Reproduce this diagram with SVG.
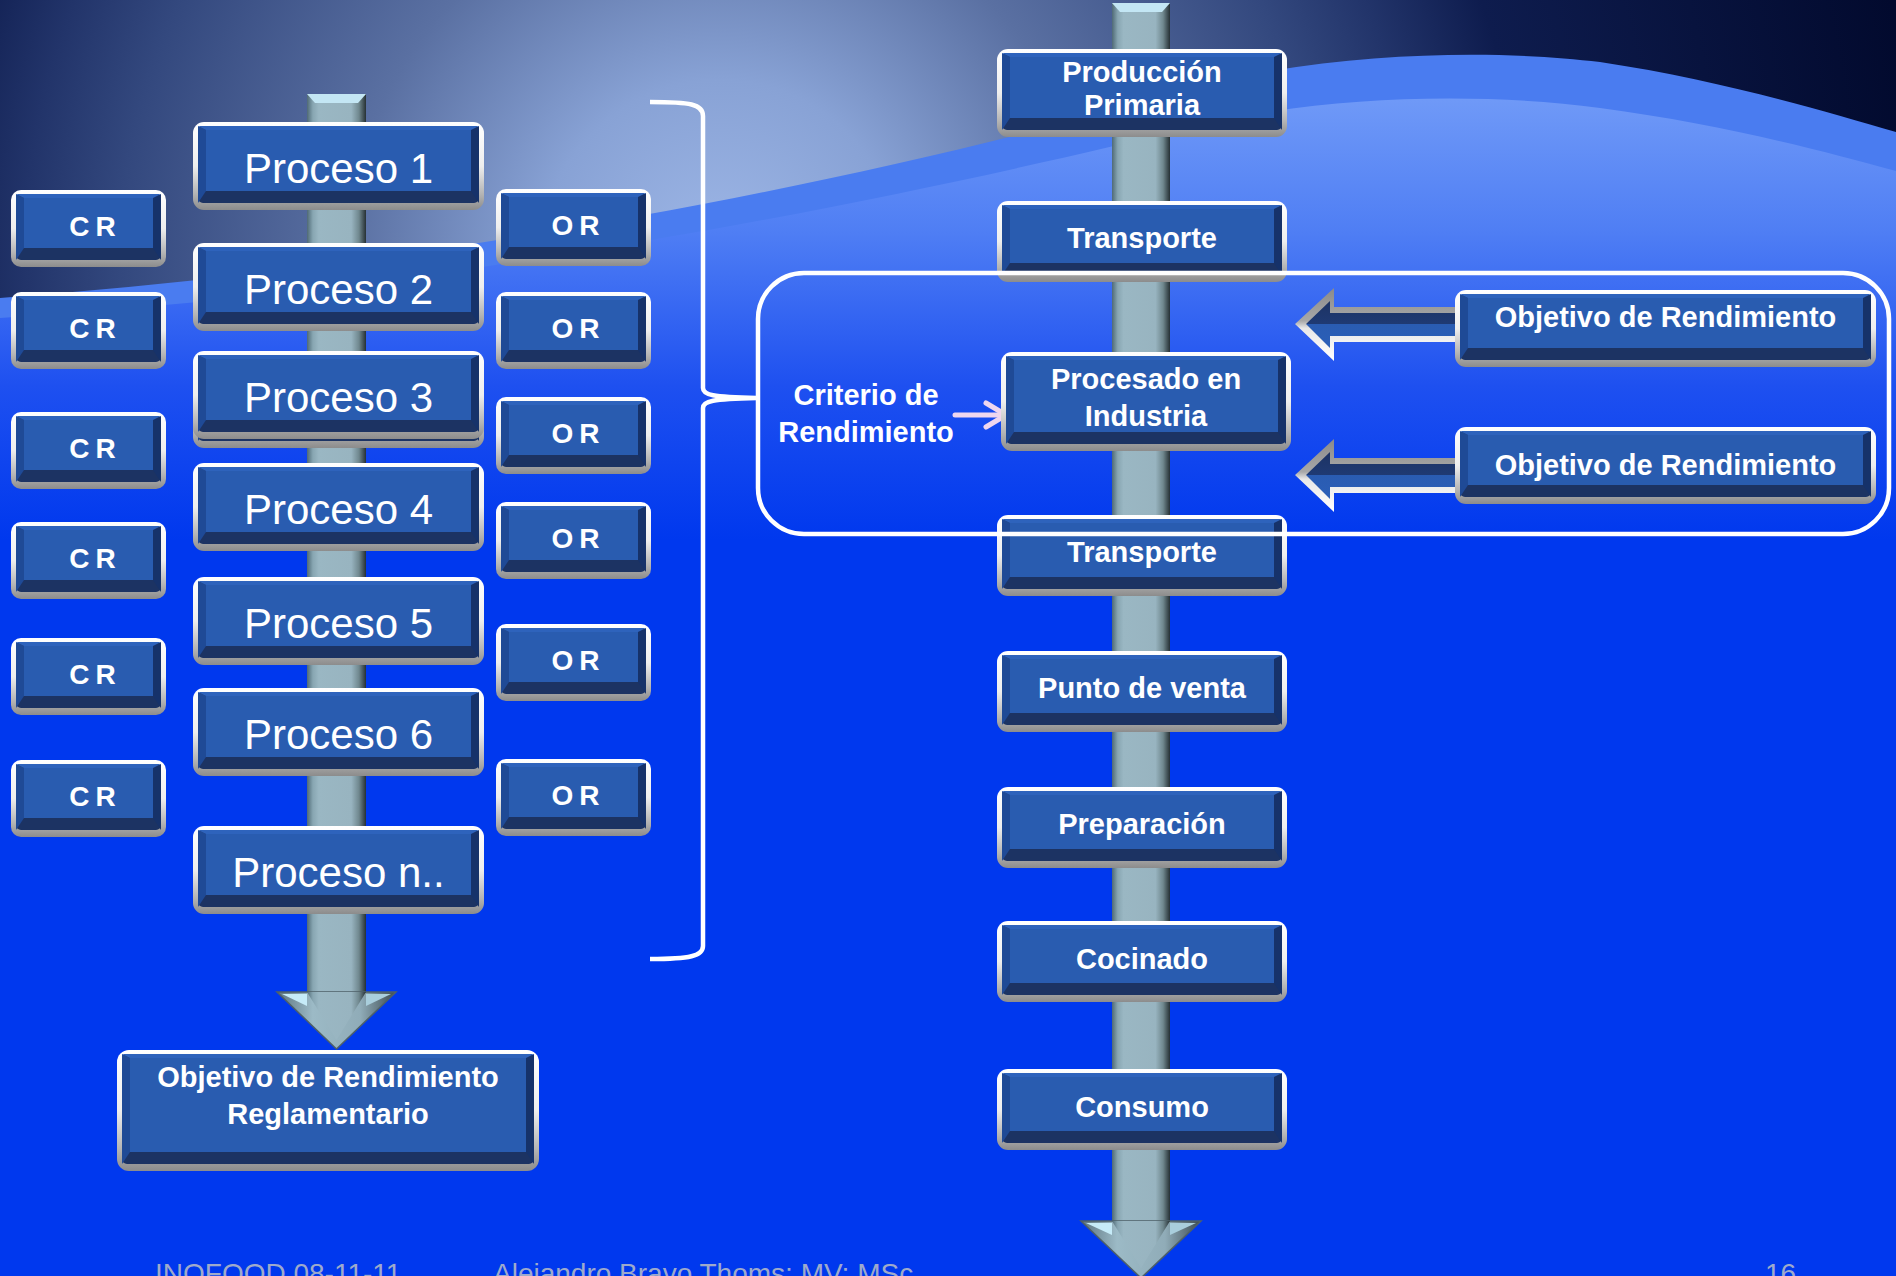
<svg xmlns="http://www.w3.org/2000/svg" xmlns:xlink="http://www.w3.org/1999/xlink" width="1896" height="1276" viewBox="0 0 1896 1276">
  <style>
    .rim { fill: url(#rimG); }
    .bb { fill: #1c3363; }
    .bl { fill: #1f4a96; }
    .br { fill: #16326a; }
    .bt { fill: #2e63bc; }
    .fc { fill: #295cb0; }
    .tp { font-family: 'Liberation Sans', Arial, sans-serif; font-size: 42px; fill: #ffffff; text-anchor: middle; }
    .tb { font-family: 'Liberation Sans', Arial, sans-serif; font-weight: bold; font-size: 29px; fill: #ffffff; text-anchor: middle; }
    .tc { font-family: 'Liberation Sans', Arial, sans-serif; font-weight: bold; font-size: 28px; fill: #ffffff; text-anchor: middle; letter-spacing: 6px; }
    .ft { font-family: 'Liberation Sans', Arial, sans-serif; font-size: 28px; fill: #9eaacb; }
    .pipe { fill: url(#pipeG); }
    .head { fill: url(#headG); stroke: #4e6068; stroke-width: 1.5; }
    .cap { fill: #c3e6f4; }
    .hl { fill: #c6ebf8; }
    .hr { fill: #a9cedc; }
    .pink { fill: none; stroke: #efd6ef; stroke-width: 5; stroke-linecap: round; stroke-linejoin: round; }
    .wline { fill: none; stroke: #ffffff; stroke-width: 4.5; }
  </style>
  <defs>
    <linearGradient id="rimG" x1="0" y1="0" x2="0" y2="1">
      <stop offset="0" stop-color="#ffffff"/>
      <stop offset="0.5" stop-color="#eeeeee"/>
      <stop offset="0.82" stop-color="#b4b4b4"/>
      <stop offset="1" stop-color="#8c8c8c"/>
    </linearGradient>
    <linearGradient id="pipeG" x1="0" y1="0" x2="1" y2="0">
      <stop offset="0" stop-color="#4f6a76"/>
      <stop offset="0.1" stop-color="#88a6b2"/>
      <stop offset="0.2" stop-color="#9ab7c3"/>
      <stop offset="0.75" stop-color="#98b4c0"/>
      <stop offset="0.88" stop-color="#70888f"/>
      <stop offset="1" stop-color="#263034"/>
    </linearGradient>
    <linearGradient id="headG" x1="0" y1="0" x2="1" y2="0">
      <stop offset="0" stop-color="#5c7480"/>
      <stop offset="0.3" stop-color="#9cbac6"/>
      <stop offset="0.7" stop-color="#90acb8"/>
      <stop offset="1" stop-color="#3c4a50"/>
    </linearGradient>
    <radialGradient id="skyG" gradientUnits="userSpaceOnUse" cx="720" cy="260" r="1200">
      <stop offset="0" stop-color="#9eb7e7"/>
      <stop offset="0.15" stop-color="#88a2d5"/>
      <stop offset="0.31" stop-color="#5a70a2"/>
      <stop offset="0.5" stop-color="#33487e"/>
      <stop offset="0.58" stop-color="#22346a"/>
      <stop offset="0.67" stop-color="#0e1c4e"/>
      <stop offset="1" stop-color="#020a2e"/>
    </radialGradient>
    <linearGradient id="glowG" gradientUnits="userSpaceOnUse" x1="0" y1="100" x2="0" y2="540">
      <stop offset="0" stop-color="#6f99f7"/>
      <stop offset="0.3" stop-color="#4f7ef4"/>
      <stop offset="0.65" stop-color="#1e50f0"/>
      <stop offset="1" stop-color="#0038ee"/>
    </linearGradient>
    <linearGradient id="arrOut" x1="0" y1="0" x2="0" y2="1">
      <stop offset="0" stop-color="#8a8a8a"/>
      <stop offset="0.45" stop-color="#a8a8a8"/>
      <stop offset="0.55" stop-color="#e8e8e8"/>
      <stop offset="1" stop-color="#ffffff"/>
    </linearGradient>
    <linearGradient id="arrIn" x1="0" y1="0" x2="0" y2="1">
      <stop offset="0" stop-color="#1d3363"/>
      <stop offset="0.5" stop-color="#1f3a74"/>
      <stop offset="0.5" stop-color="#2a5cb2"/>
      <stop offset="1" stop-color="#2b5fb8"/>
    </linearGradient>

    <!-- bevelled button shapes, one per size -->
    <g id="boxA">
      <rect class="rim" width="155" height="77" rx="10"/>
      <rect class="bb" x="5" y="4" width="145" height="66" rx="5"/>
      <polygon class="bl" points="5,4 13,8 13,58 5,70"/>
      <polygon class="br" points="150,4 150,70 142,58 142,8"/>
      <polygon class="bt" points="5,4 150,4 142,8 13,8"/>
      <rect class="fc" x="13" y="8" width="129" height="50"/>
    </g>
    <g id="boxP">
      <rect class="rim" width="291" height="88" rx="11"/>
      <rect class="bb" x="5" y="4" width="281" height="77" rx="5"/>
      <polygon class="bl" points="5,4 13,8 13,69 5,81"/>
      <polygon class="br" points="286,4 286,81 278,69 278,8"/>
      <polygon class="bt" points="5,4 286,4 278,8 13,8"/>
      <rect class="fc" x="13" y="8" width="265" height="61"/>
    </g>
    <g id="boxR">
      <rect class="rim" width="290" height="81" rx="11"/>
      <rect class="bb" x="5" y="4" width="280" height="70" rx="5"/>
      <polygon class="bl" points="5,4 13,8 13,62 5,74"/>
      <polygon class="br" points="285,4 285,74 277,62 277,8"/>
      <polygon class="bt" points="5,4 285,4 277,8 13,8"/>
      <rect class="fc" x="13" y="8" width="264" height="54"/>
    </g>
    <g id="boxR88">
      <rect class="rim" width="290" height="88" rx="11"/>
      <rect class="bb" x="5" y="4" width="280" height="77" rx="5"/>
      <polygon class="bl" points="5,4 13,8 13,69 5,81"/>
      <polygon class="br" points="285,4 285,81 277,69 277,8"/>
      <polygon class="bt" points="5,4 285,4 277,8 13,8"/>
      <rect class="fc" x="13" y="8" width="264" height="61"/>
    </g>
    <g id="boxR99">
      <rect class="rim" width="290" height="99" rx="11"/>
      <rect class="bb" x="5" y="4" width="280" height="88" rx="5"/>
      <polygon class="bl" points="5,4 13,8 13,80 5,92"/>
      <polygon class="br" points="285,4 285,92 277,80 277,8"/>
      <polygon class="bt" points="5,4 285,4 277,8 13,8"/>
      <rect class="fc" x="13" y="8" width="264" height="72"/>
    </g>
    <g id="boxO">
      <rect class="rim" width="421" height="77" rx="11"/>
      <rect class="bb" x="5" y="4" width="411" height="66" rx="5"/>
      <polygon class="bl" points="5,4 13,8 13,58 5,70"/>
      <polygon class="br" points="416,4 416,70 408,58 408,8"/>
      <polygon class="bt" points="5,4 416,4 408,8 13,8"/>
      <rect class="fc" x="13" y="8" width="395" height="50"/>
    </g>
    <g id="boxB">
      <rect class="rim" width="422" height="121" rx="12"/>
      <rect class="bb" x="5" y="4" width="412" height="110" rx="5"/>
      <polygon class="bl" points="5,4 13,8 13,102 5,114"/>
      <polygon class="br" points="417,4 417,114 409,102 409,8"/>
      <polygon class="bt" points="5,4 417,4 409,8 13,8"/>
      <rect class="fc" x="13" y="8" width="396" height="94"/>
    </g>

    <!-- bevelled block arrow pointing left -->
    <g id="objArrow">
      <polygon fill="url(#arrOut)" points="1295,324 1334,288 1334,307 1460,307 1460,342 1334,342 1334,361"/>
      <polygon fill="url(#arrIn)" points="1306,324 1330,301 1330,313 1460,313 1460,336 1330,336 1330,348"/>
    </g>
  </defs>

  <!-- background: sky and wave -->
  <g id="background">
    <rect width="1896" height="1276" fill="#0038ee"/>
    <rect width="1896" height="360" fill="url(#skyG)"/>
    <path d="M0,298 C450,265 900,175 1200,85 C1350,50 1500,50 1600,62 C1720,80 1820,110 1896,132 L1896,1276 L0,1276 Z" fill="#4a7cf0"/>
    <path d="M0,318 C450,290 900,200 1200,125 C1330,95 1480,92 1600,108 C1720,124 1820,150 1896,171 L1896,1276 L0,1276 Z" fill="url(#glowG)"/>
  </g>

  <!-- flow pipes and arrows -->
  <g id="connectors">
    <rect class="pipe" x="307" y="94" width="59" height="900"/>
    <polygon class="cap" points="307,94 366,94 358,103 315,103"/>
    <polygon class="head" points="277,992 396,992 336.5,1049"/>
    <polygon class="pipe" points="307,992 366,992 336.5,1040"/>
    <polygon class="hl" points="282,994 307,994 307,1006"/>
    <polygon class="hr" points="366,994 391,994 366,1006"/>

    <rect class="pipe" x="1112" y="3" width="58" height="1220"/>
    <polygon class="cap" points="1112,3 1170,3 1162,12 1120,12"/>
    <polygon class="head" points="1081,1221 1201,1221 1141,1278"/>
    <polygon class="pipe" points="1112,1221 1170,1221 1141,1268"/>
    <polygon class="hl" points="1086,1223 1112,1223 1112,1235"/>
    <polygon class="hr" points="1170,1223 1196,1223 1170,1235"/>

    <use href="#objArrow"/>
    <use href="#objArrow" y="151"/>

    <g class="pink">
      <line x1="955" y1="415" x2="1004" y2="415"/>
      <polyline points="986,403 1006,415 986,427"/>
    </g>
  </g>

  <!-- left column: criteria, processes, objectives -->
  <g id="cr1" transform="translate(11,190)"><use href="#boxA"/><text class="tc" x="84.5" y="46">CR</text></g>
  <g id="cr2" transform="translate(11,292)"><use href="#boxA"/><text class="tc" x="84.5" y="46">CR</text></g>
  <g id="cr3" transform="translate(11,412)"><use href="#boxA"/><text class="tc" x="84.5" y="46">CR</text></g>
  <g id="cr4" transform="translate(11,522)"><use href="#boxA"/><text class="tc" x="84.5" y="46">CR</text></g>
  <g id="cr5" transform="translate(11,638)"><use href="#boxA"/><text class="tc" x="84.5" y="46">CR</text></g>
  <g id="cr6" transform="translate(11,760)"><use href="#boxA"/><text class="tc" x="84.5" y="46">CR</text></g>

  <g id="or1" transform="translate(496,189)"><use href="#boxA"/><text class="tc" x="82.5" y="46">OR</text></g>
  <g id="or2" transform="translate(496,292)"><use href="#boxA"/><text class="tc" x="82.5" y="46">OR</text></g>
  <g id="or3" transform="translate(496,397)"><use href="#boxA"/><text class="tc" x="82.5" y="46">OR</text></g>
  <g id="or4" transform="translate(496,502)"><use href="#boxA"/><text class="tc" x="82.5" y="46">OR</text></g>
  <g id="or5" transform="translate(496,624)"><use href="#boxA"/><text class="tc" x="82.5" y="46">OR</text></g>
  <g id="or6" transform="translate(496,759)"><use href="#boxA"/><text class="tc" x="82.5" y="46">OR</text></g>

  <g id="proceso1" transform="translate(193,122)"><use href="#boxP"/><text class="tp" x="145.5" y="61">Proceso 1</text></g>
  <g id="proceso2" transform="translate(193,243)"><use href="#boxP"/><text class="tp" x="145.5" y="61">Proceso 2</text></g>
  <g id="proceso3" transform="translate(193,351)"><use href="#boxP" y="9"/><use href="#boxP"/><text class="tp" x="145.5" y="61">Proceso 3</text></g>
  <g id="proceso4" transform="translate(193,463)"><use href="#boxP"/><text class="tp" x="145.5" y="61">Proceso 4</text></g>
  <g id="proceso5" transform="translate(193,577)"><use href="#boxP"/><text class="tp" x="145.5" y="61">Proceso 5</text></g>
  <g id="proceso6" transform="translate(193,688)"><use href="#boxP"/><text class="tp" x="145.5" y="61">Proceso 6</text></g>
  <g id="proceson" transform="translate(193,826)"><use href="#boxP"/><text class="tp" x="145.5" y="61">Proceso n..</text></g>

  <g id="objetivo-reglamentario" transform="translate(117,1050)">
    <use href="#boxB"/>
    <text class="tb" x="211" y="37">Objetivo de Rendimiento</text>
    <text class="tb" x="211" y="74">Reglamentario</text>
  </g>

  <!-- right column: food chain stages -->
  <g id="produccion" transform="translate(997,49)">
    <use href="#boxR88"/>
    <text class="tb" x="145" y="33">Producción</text>
    <text class="tb" x="145" y="66">Primaria</text>
  </g>
  <g id="transporte1" transform="translate(997,201)"><use href="#boxR"/><text class="tb" x="145" y="47">Transporte</text></g>
  <g id="procesado" transform="translate(1001,352)">
    <use href="#boxR99"/>
    <text class="tb" x="145" y="37">Procesado en</text>
    <text class="tb" x="145" y="74">Industria</text>
  </g>
  <g id="transporte2" transform="translate(997,515)"><use href="#boxR"/><text class="tb" x="145" y="47">Transporte</text></g>
  <g id="punto-venta" transform="translate(997,651)"><use href="#boxR"/><text class="tb" x="145" y="47">Punto de venta</text></g>
  <g id="preparacion" transform="translate(997,787)"><use href="#boxR"/><text class="tb" x="145" y="47">Preparación</text></g>
  <g id="cocinado" transform="translate(997,921)"><use href="#boxR"/><text class="tb" x="145" y="48">Cocinado</text></g>
  <g id="consumo" transform="translate(997,1069)"><use href="#boxR"/><text class="tb" x="145" y="48">Consumo</text></g>

  <g id="objetivo1" transform="translate(1455,290)"><use href="#boxO"/><text class="tb" x="210.5" y="37">Objetivo de Rendimiento</text></g>
  <g id="objetivo2" transform="translate(1455,427)"><use href="#boxO"/><text class="tb" x="210.5" y="48">Objetivo de Rendimiento</text></g>

  <g id="criterio">
    <text class="tb" x="866" y="405">Criterio de</text>
    <text class="tb" x="866" y="442">Rendimiento</text>
  </g>

  <!-- grouping frame and brace -->
  <g id="frame">
    <rect class="wline" x="758" y="273" width="1131" height="261" rx="46"/>
    <path class="wline" d="M650,102 C690,102 703,104 703,116 L703,388 C703,395 712,397 757,398 C712,399 703,401 703,408 L703,946 C703,956 690,959 650,959"/>
  </g>

  <!-- footer, clipped by the bottom edge of the page -->
  <g id="footer">
    <text class="ft" x="155" y="1283">INOFOOD 08-11-11</text>
    <text class="ft" x="493" y="1283">Alejandro Bravo Thoms; MV; MSc</text>
    <text class="ft" x="1765" y="1283">16</text>
  </g>
</svg>
